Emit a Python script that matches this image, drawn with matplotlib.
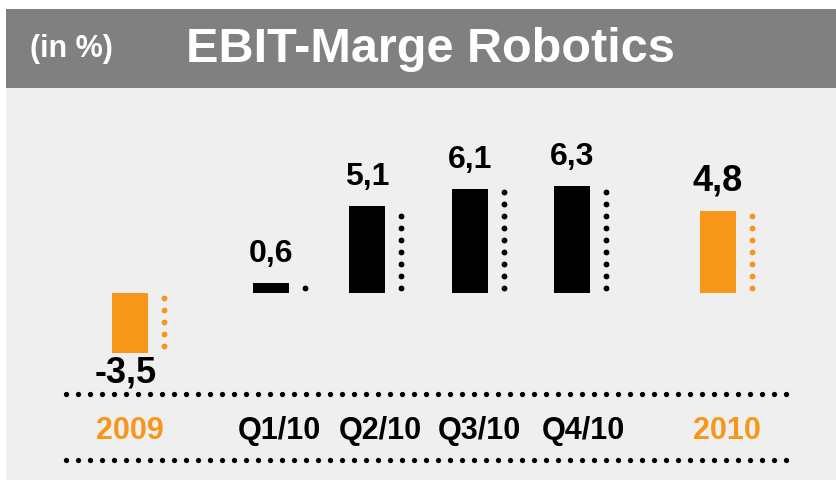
import numpy as np
import matplotlib
matplotlib.use("Agg")
import matplotlib.pyplot as plt
from matplotlib.patches import Rectangle

plt.rcParams['font.family'] = ['Liberation Sans', 'DejaVu Sans']

# data
categories = ['2009', 'Q1/10', 'Q2/10', 'Q3/10', 'Q4/10', '2010']
values = [-3.5, 0.6, 5.1, 6.1, 6.3, 4.8]
value_labels = ['-3,5', '0,6', '5,1', '6,1', '6,3', '4,8']
is_year = [True, False, False, False, False, True]

# layout (pixels in an 836x482 figure)
W, H = 836, 482
x_pos = [130, 271, 367, 470, 572, 718]
label_x = [130, 279, 380, 479, 583, 727]
bar_w = 36
dot_off = 34
base_px = 293          # baseline, pixels from top
S = 17.0               # pixels per percentage point

orange = '#F7971A'
panel = '#efefef'
header = '#808080'

fig = plt.figure(figsize=(W / 100, H / 100), dpi=100)
fig.patch.set_facecolor('white')

# background axes in pixel coordinates
bg = fig.add_axes([0, 0, 1, 1])
bg.set_xlim(0, W)
bg.set_ylim(H, 0)
bg.axis('off')
bg.add_patch(Rectangle((6, 9), W - 6, 471, color=panel, lw=0))
bg.add_patch(Rectangle((6, 9), W - 6, 79, color=header, lw=0))
bg.text(30, 49, '(in %)', color='white', fontsize=22, fontweight='bold', va='center', ha='left')
bg.text(186, 49, 'EBIT-Marge Robotics', color='white', fontsize=35, fontweight='bold',
        va='center', ha='left')

# dotted rules around the category labels
dots_x = np.arange(66, 788, 12)
for yy in (394, 460):
    bg.plot(dots_x, np.full(len(dots_x), yy), 'o', color='black', ms=3.8, mew=0)

for cat, lx, yr in zip(categories, label_x, is_year):
    bg.text(lx, 431, cat, color=orange if yr else 'black', fontsize=22, fontweight='bold',
            ha='center', va='center')

# data axes: x in pixels, y in percent
ax = fig.add_axes([0, 0, 1, 1])
ax.patch.set_alpha(0)
ax.axis('off')
ax.set_xlim(0, W)
ax.set_ylim((base_px - H) / S, base_px / S)

for x, v, lab, yr in zip(x_pos, values, value_labels, is_year):
    c = orange if yr else 'black'
    ax.bar(x, v, width=bar_w, color=c, lw=0)
    sgn = 1 if v >= 0 else -1
    d = np.arange(5, abs(v) * S - 1, 12) / S * sgn
    ax.plot(np.full(len(d), x + dot_off), d, 'o', color=c, ms=4.2, mew=0)
    fs = 26 if yr else 23
    if v >= 0:
        ax.annotate(lab, (x, v), xytext=(0, 15), textcoords='offset points',
                    ha='center', va='baseline', fontsize=fs, fontweight='bold', color='black')
    else:
        ax.annotate(lab, (x, v), xytext=(-3, -2), textcoords='offset points',
                    ha='center', va='top', fontsize=fs, fontweight='bold', color='black')

fig.savefig('out.png', dpi=100, facecolor='white')
